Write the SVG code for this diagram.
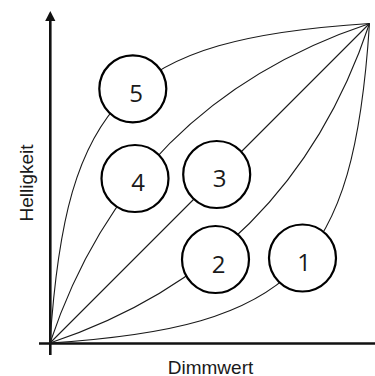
<svg xmlns="http://www.w3.org/2000/svg" width="375" height="376" viewBox="0 0 375 376">
  <style>
    .axis { stroke: #111; stroke-width: 2.6; fill: none; }
    .curve { stroke: #1a1a1a; stroke-width: 1.1; fill: none; }
    .node circle { fill: #fff; stroke: #000; stroke-width: 2.2; }
    .node text { font-family: "Open Sans", "Noto Sans", sans-serif; font-size: 24px; fill: #1a1a1a; text-anchor: middle; }
    .label { font-family: "Liberation Sans", Arial, sans-serif; font-size: 19px; fill: #1a1a1a; text-anchor: middle; }
  </style>
  <rect width="375" height="376" fill="#fff"/>
  <g id="axes">
    <line class="axis" x1="39" y1="343.5" x2="375" y2="343.5"/>
    <line class="axis" x1="50.3" y1="355" x2="50.3" y2="19"/>
    <polygon points="50.3,11 45.2,21 55.4,21" fill="#111"/>
  </g>
  <g id="connectors">
    <path class="curve" d="M50,343 C66,98.6 125.1,39.5 369.5,23.5"/>
    <path class="curve" d="M50,343 Q129.9,103.4 369.5,23.5"/>
    <path class="curve" d="M50,343 L369.5,23.5"/>
    <path class="curve" d="M50,343 Q289.6,263.1 369.5,23.5"/>
    <path class="curve" d="M50,343 C294.4,327 353.5,267.9 369.5,23.5"/>
  </g>
  <g id="node5" class="node">
    <circle cx="132.8" cy="88.8" r="33.5"/>
    <text x="136" y="102">5</text>
  </g>
  <g id="node4" class="node">
    <circle cx="135" cy="178.5" r="33.5"/>
    <text x="138" y="191">4</text>
  </g>
  <g id="node3" class="node">
    <circle cx="216.7" cy="174.5" r="33.5"/>
    <text x="219.5" y="186.7">3</text>
  </g>
  <g id="node2" class="node">
    <circle cx="215.5" cy="259.5" r="33.5"/>
    <text x="218.5" y="272.5">2</text>
  </g>
  <g id="node1" class="node">
    <circle cx="302.5" cy="258" r="33.5"/>
    <text x="304" y="271">1</text>
  </g>
  <text class="label" x="210.5" y="374">Dimmwert</text>
  <text class="label" transform="translate(32.5,183) rotate(-90)">Helligkeit</text>
</svg>
